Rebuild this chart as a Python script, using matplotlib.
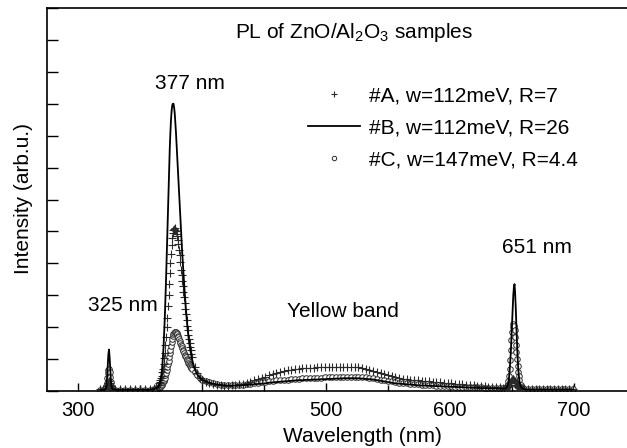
import matplotlib
matplotlib.use("Agg")
import matplotlib.pyplot as plt
from matplotlib.ticker import MultipleLocator, NullFormatter

plt.rcParams['font.family'] = ['Liberation Sans', 'DejaVu Sans']
plt.rcParams['mathtext.fontset'] = 'custom'
plt.rcParams['mathtext.rm'] = 'Liberation Sans'
plt.rcParams['mathtext.it'] = 'Liberation Sans:italic'

# ---------------- data ----------------
wavelength = [
    318, 320,
    322, 322.5, 323, 323.5, 324, 324.5, 325, 325.5, 326, 326.5, 327, 327.5, 328,
    330, 334, 338, 342, 346, 350, 354, 358, 361, 363,
    365, 365.5, 366, 366.5, 367, 367.5, 368, 368.5, 369, 369.5,
    370, 370.5, 371, 371.5, 372, 372.5, 373, 373.5, 374, 374.5,
    375, 375.5, 376, 376.5, 377, 377.5, 378, 378.5, 379, 379.5,
    380, 380.5, 381, 381.5, 382, 382.5, 383, 383.5, 384, 384.5,
    385, 385.5, 386, 386.5, 387, 387.5, 388, 388.5, 389, 389.5,
    390, 390.5, 391, 391.5, 392,
    394, 396, 398, 400,
    403, 406, 409, 412, 415, 418, 421, 424, 427, 430,
    433, 436, 439, 442, 445, 448, 451, 454, 457, 460,
    463, 466, 469, 472, 475, 478, 481, 484, 487, 490,
    493, 496, 499, 502, 505, 508, 511, 514, 517, 520,
    523, 526, 529, 532, 535, 538, 541, 544, 547, 550,
    553, 556, 559, 562, 565, 568, 571, 574, 577, 580,
    583, 586, 589, 592, 595, 598, 601, 604, 607, 610,
    613, 616, 619, 622, 625, 628, 631, 634, 637, 640, 643,
    644, 645,
    646, 646.5, 647, 647.5, 648, 648.5, 649, 649.5, 650, 650.5,
    651, 651.5, 652, 652.5, 653, 653.5, 654, 654.5, 655, 655.5, 656,
    657, 658, 659, 660,
    663, 666, 669, 672, 675, 678, 681, 684, 687, 690, 693, 696, 699,
]

sample_a = [
    0.05, 0.05,
    0.06, 0.08, 0.10, 0.15, 0.20, 0.26, 0.30, 0.26, 0.20, 0.15, 0.10, 0.08, 0.06,
    0.05, 0.05, 0.05, 0.05, 0.05, 0.05, 0.05, 0.06, 0.08, 0.12,
    0.20, 0.24, 0.28, 0.33, 0.40, 0.48, 0.58, 0.70, 0.85, 1.02,
    1.20, 1.44, 1.70, 2.00, 2.30, 2.65, 3.00, 3.35, 3.70, 4.00,
    4.30, 4.58, 4.80, 4.95, 5.05, 5.09, 5.10, 5.06, 5.00, 4.93,
    4.85, 4.73, 4.60, 4.43, 4.25, 4.03, 3.80, 3.62, 3.45, 3.28,
    3.10, 2.93, 2.75, 2.58, 2.40, 2.22, 2.05, 1.90, 1.75, 1.62,
    1.50, 1.38, 1.27, 1.16, 1.05,
    0.75, 0.55, 0.42, 0.34,
    0.28, 0.24, 0.21, 0.19, 0.18, 0.17, 0.17, 0.18, 0.19, 0.21,
    0.23, 0.26, 0.29, 0.33, 0.37, 0.41, 0.45, 0.49, 0.53, 0.56,
    0.59, 0.62, 0.65, 0.67, 0.69, 0.70, 0.71, 0.72, 0.73, 0.73,
    0.74, 0.74, 0.75, 0.75, 0.76, 0.76, 0.76, 0.76, 0.76, 0.76,
    0.75, 0.74, 0.72, 0.70, 0.67, 0.64, 0.61, 0.57, 0.53, 0.50,
    0.47, 0.44, 0.41, 0.39, 0.37, 0.35, 0.34, 0.33, 0.32, 0.31,
    0.30, 0.29, 0.28, 0.27, 0.26, 0.25, 0.24, 0.23, 0.22, 0.21,
    0.20, 0.19, 0.18, 0.17, 0.16, 0.15, 0.14, 0.13, 0.12, 0.11, 0.10,
    0.10, 0.10,
    0.12, 0.13, 0.15, 0.17, 0.20, 0.24, 0.28, 0.32, 0.35, 0.37,
    0.38, 0.36, 0.32, 0.28, 0.24, 0.20, 0.17, 0.14, 0.12, 0.10, 0.09,
    0.08, 0.07, 0.07, 0.07,
    0.07, 0.07, 0.06, 0.06, 0.06, 0.06, 0.06, 0.06, 0.06, 0.06, 0.06, 0.06, 0.06,
]

sample_b = [
    0.03, 0.03,
    0.05, 0.10, 0.20, 0.45, 0.80, 1.15, 1.30, 1.05, 0.70, 0.35, 0.15, 0.08, 0.05,
    0.04, 0.04, 0.04, 0.04, 0.04, 0.04, 0.04, 0.04, 0.05, 0.08,
    0.15, 0.19, 0.25, 0.34, 0.45, 0.60, 0.80, 1.07, 1.40, 1.82,
    2.30, 2.88, 3.50, 4.20, 4.90, 5.60, 6.30, 6.98, 7.60, 8.10,
    8.50, 8.78, 8.95, 9.00, 9.00, 8.88, 8.70, 8.42, 8.10, 7.72,
    7.30, 6.96, 6.60, 6.20, 5.80, 5.40, 5.00, 4.67, 4.35, 4.02,
    3.70, 3.40, 3.10, 2.82, 2.55, 2.32, 2.10, 1.90, 1.72, 1.56,
    1.42, 1.30, 1.19, 1.08, 0.98,
    0.70, 0.53, 0.43, 0.36,
    0.30, 0.26, 0.23, 0.21, 0.19, 0.18, 0.17, 0.17, 0.17, 0.17,
    0.18, 0.19, 0.20, 0.21, 0.22, 0.23, 0.24, 0.26, 0.27, 0.28,
    0.29, 0.30, 0.31, 0.32, 0.33, 0.34, 0.34, 0.35, 0.35, 0.36,
    0.36, 0.37, 0.37, 0.38, 0.38, 0.39, 0.39, 0.40, 0.40, 0.40,
    0.40, 0.40, 0.39, 0.38, 0.37, 0.36, 0.34, 0.32, 0.30, 0.28,
    0.26, 0.24, 0.23, 0.22, 0.21, 0.20, 0.19, 0.18, 0.17, 0.17,
    0.16, 0.16, 0.15, 0.15, 0.14, 0.14, 0.13, 0.13, 0.12, 0.12,
    0.11, 0.11, 0.10, 0.10, 0.09, 0.09, 0.08, 0.08, 0.08, 0.07, 0.07,
    0.07, 0.08,
    0.12, 0.18, 0.25, 0.40, 0.60, 0.88, 1.20, 1.62, 2.10, 2.58,
    3.00, 3.25, 3.35, 3.05, 2.60, 2.05, 1.50, 1.05, 0.70, 0.47, 0.30,
    0.14, 0.09, 0.07, 0.06,
    0.05, 0.05, 0.05, 0.05, 0.05, 0.05, 0.05, 0.05, 0.05, 0.05, 0.05, 0.05, 0.05,
]

sample_c = [
    0.03, 0.03,
    0.08, 0.15, 0.25, 0.40, 0.55, 0.66, 0.70, 0.60, 0.45, 0.28, 0.15, 0.08, 0.05,
    0.03, 0.03, 0.03, 0.03, 0.03, 0.03, 0.03, 0.04, 0.05, 0.07,
    0.10, 0.11, 0.13, 0.15, 0.17, 0.20, 0.23, 0.27, 0.31, 0.36,
    0.42, 0.49, 0.56, 0.65, 0.74, 0.84, 0.95, 1.06, 1.18, 1.30,
    1.42, 1.53, 1.63, 1.71, 1.78, 1.82, 1.85, 1.85, 1.84, 1.81,
    1.78, 1.73, 1.68, 1.62, 1.56, 1.50, 1.45, 1.40, 1.35, 1.29,
    1.24, 1.19, 1.14, 1.09, 1.05, 1.01, 0.97, 0.93, 0.89, 0.85,
    0.82, 0.78, 0.75, 0.72, 0.69,
    0.58, 0.49, 0.42, 0.36,
    0.31, 0.27, 0.24, 0.22, 0.20, 0.19, 0.18, 0.18, 0.18, 0.19,
    0.20, 0.21, 0.22, 0.24, 0.25, 0.27, 0.28, 0.30, 0.31, 0.33,
    0.34, 0.35, 0.36, 0.37, 0.38, 0.39, 0.40, 0.40, 0.41, 0.41,
    0.42, 0.42, 0.43, 0.43, 0.44, 0.44, 0.45, 0.45, 0.45, 0.45,
    0.45, 0.45, 0.44, 0.43, 0.42, 0.40, 0.38, 0.36, 0.34, 0.32,
    0.30, 0.28, 0.26, 0.25, 0.24, 0.23, 0.22, 0.21, 0.20, 0.19,
    0.18, 0.18, 0.17, 0.16, 0.16, 0.15, 0.15, 0.14, 0.14, 0.13,
    0.13, 0.12, 0.12, 0.11, 0.11, 0.10, 0.10, 0.09, 0.09, 0.08, 0.08,
    0.08, 0.10,
    0.15, 0.21, 0.30, 0.48, 0.70, 0.98, 1.30, 1.60, 1.85, 2.00,
    2.10, 2.05, 1.90, 1.70, 1.45, 1.22, 1.00, 0.78, 0.60, 0.46, 0.35,
    0.20, 0.12, 0.08, 0.06,
    0.05, 0.05, 0.05, 0.05, 0.05, 0.05, 0.05, 0.05, 0.05, 0.05, 0.05, 0.05, 0.05,
]

labels = ["#A, w=112meV, R=7", "#B, w=112meV, R=26", "#C, w=147meV, R=4.4"]
title_text = "PL of ZnO/Al$_2$O$_3$ samples"
xticks = [300, 400, 500, 600, 700]

# ---------------- figure ----------------
W, H = 627, 448
FS = 15
fig = plt.figure(figsize=(W / 100, H / 100), dpi=100)
ax = fig.add_axes([47 / W, 1 - 391 / H, (W - 47) / W, (391 - 8) / H])

ax.plot(wavelength, sample_c, linestyle='none', marker='o', markersize=4.0,
        markerfacecolor='white', markeredgecolor='#2a2a2a', markeredgewidth=0.7,
        label=labels[2], zorder=2)
ax.plot(wavelength, sample_a, linestyle='none', marker='+', markersize=5.5,
        color='#2a2a2a', markeredgewidth=0.8, label=labels[0], zorder=3)
ax.plot(wavelength, sample_b, color='black', linewidth=1.3, label=labels[1], zorder=4)

ax.set_xlim(275, 742.7)
ax.set_ylim(0, 12)

ax.set_xticks(xticks)
ax.xaxis.set_minor_locator(MultipleLocator(50))
ax.yaxis.set_major_locator(MultipleLocator(1))
ax.yaxis.set_major_formatter(NullFormatter())
ax.tick_params(axis='x', which='major', direction='in', length=6, width=1,
               labelsize=14.5, pad=7)
ax.tick_params(axis='x', which='minor', direction='in', length=4, width=1)
ax.tick_params(axis='y', which='major', direction='in', length=8, width=1)
ax.tick_params(top=False, right=False)
ax.spines['right'].set_visible(False)
for s in ['left', 'bottom', 'top']:
    ax.spines[s].set_linewidth(1.2)

# legend
handles, labs = ax.get_legend_handles_labels()
order = [labs.index(l) for l in labels]
leg = ax.legend([handles[i] for i in order], [labs[i] for i in order],
                loc='upper left', bbox_to_anchor=(308 / W, 1 - 86 / H),
                bbox_transform=fig.transFigure, frameon=False, fontsize=FS,
                handlelength=2.5, handletextpad=0.45, labelspacing=0.63,
                borderpad=0, borderaxespad=0, numpoints=1, markerscale=0.8)

# annotations
ax.text(522.6, 11.06, title_text, fontsize=FS, ha='center', va='baseline')
ax.text(390.3, 9.47, "377 nm", fontsize=FS, ha='center', va='baseline')
ax.text(336.3, 2.5, "325 nm", fontsize=FS, ha='center', va='baseline')
ax.text(513.7, 2.32, "Yellow band", fontsize=FS, ha='center', va='baseline')
ax.text(670.2, 4.31, "651 nm", fontsize=FS, ha='center', va='baseline')

fig.text(362 / W, 1 - 436 / H, "Wavelength (nm)", fontsize=FS, ha='center', va='center')
fig.text(24 / W, 1 - 199 / H, "Intensity (arb.u.)", fontsize=FS, ha='center',
         va='center', rotation=90)

fig.savefig("out.png", dpi=100)
